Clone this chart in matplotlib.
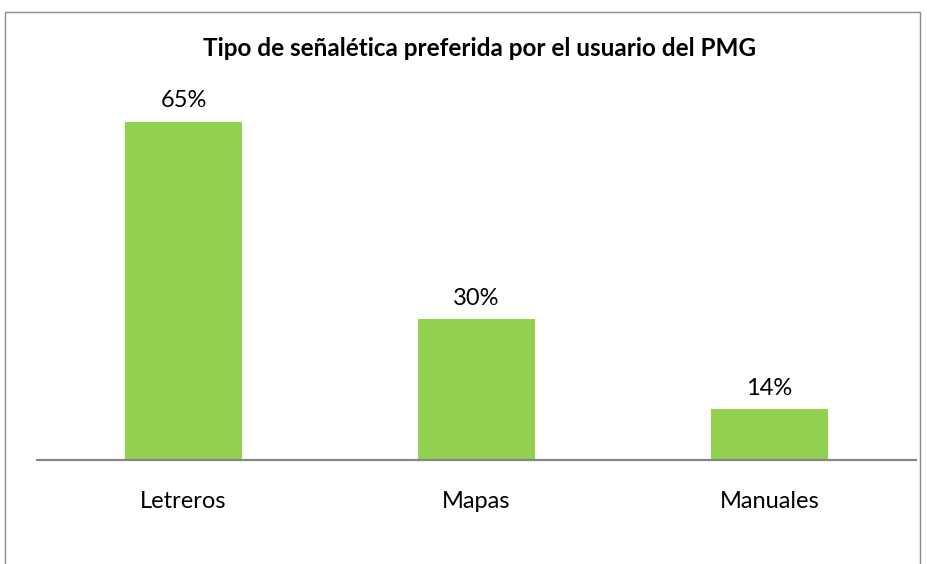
import matplotlib.pyplot as plt
from matplotlib.patches import Rectangle

categories = ['Letreros', 'Mapas', 'Manuales']
values = [65, 30, 14]
labels = ['65%', '30%', '14%']
title = 'Tipo de señalética preferida por el usuario del PMG'

plt.rcParams['font.family'] = ['Lato', 'DejaVu Sans']

fig = plt.figure(figsize=(9.28, 5.64), dpi=100)
ax = fig.add_axes([37 / 928, 104 / 564, 879 / 928, 366 / 564])

x = range(len(categories))
ax.bar(x, values, width=0.4, color='#92D050', zorder=2)
for i, v in enumerate(values):
    ax.text(i, v + 1.9, labels[i], ha='center', va='bottom', fontsize=17)

ax.set_xlim(-0.5, 2.5)
ax.set_ylim(5, 70)
ax.set_yticks([])
ax.set_xticks(list(x))
ax.set_xticklabels(categories, fontsize=17)
ax.tick_params(axis='x', length=0, pad=22)
for s in ['top', 'right', 'left']:
    ax.spines[s].set_visible(False)
ax.spines['bottom'].set_color('#868686')
ax.spines['bottom'].set_linewidth(1.6)

fig.text(480 / 928, 1 - 48 / 564, title, ha='center', va='center',
         fontsize=17.5, fontweight='bold')

# chart frame
fig.patches.append(Rectangle((5 / 928, -0.1), 915 / 928, 1.1 - 12 / 564,
                             transform=fig.transFigure, fill=False,
                             edgecolor='#8C8C8C', linewidth=1.0))

fig.savefig('out.png', dpi=100)
